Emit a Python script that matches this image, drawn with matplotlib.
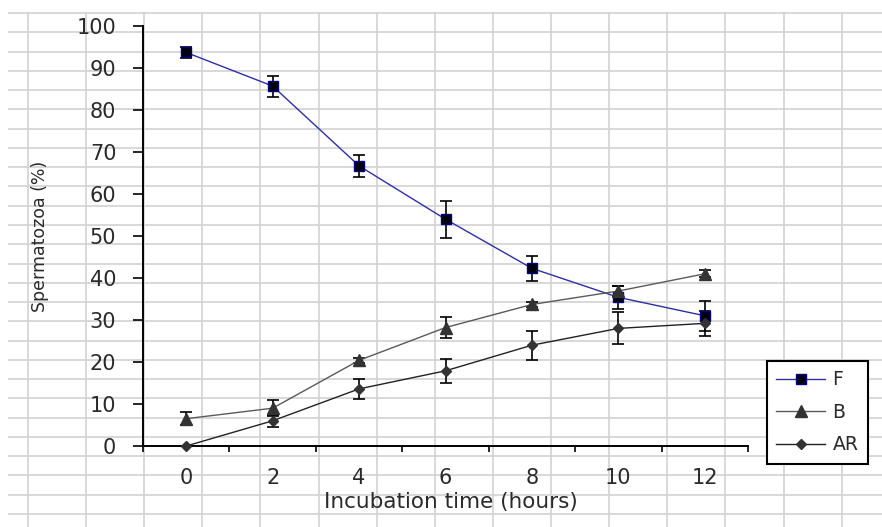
import matplotlib
matplotlib.use('Agg')
import matplotlib.pyplot as plt
import numpy as np

# ---- data ----
hours = [0, 2, 4, 6, 8, 10, 12]
F = [93.7, 85.7, 66.7, 54.0, 42.3, 35.4, 31.0]
F_err = [1.4, 2.5, 2.7, 4.4, 3.0, 2.8, 3.6]
B = [6.5, 9.0, 20.4, 28.2, 33.7, 36.9, 41.0]
B_err = [1.5, 1.9, 0.6, 2.6, 0.6, 1.1, 0.8]
AR = [0.0, 6.0, 13.6, 17.9, 24.0, 28.0, 29.2]
AR_err = [0.0, 1.4, 2.3, 2.9, 3.5, 3.8, 3.0]
series_names = ['F', 'B', 'AR']
y_ticks = list(range(0, 101, 10))
xlabel = 'Incubation time (hours)'
ylabel = 'Spermatozoa (%)'

plt.rcParams['font.family'] = ['DejaVu Sans']

W, H = 882, 527
fig = plt.figure(figsize=(W / 100, H / 100), dpi=100)

# ---- spreadsheet cell grid in the background ----
bg = fig.add_axes([0, 0, 1, 1], zorder=0)
bg.set_xlim(0, W)
bg.set_ylim(H, 0)
bg.axis('off')
row_y = 13 + 19.27 * np.arange(27)
col_x = 28 + 58.12 * np.arange(15)
bg.hlines(row_y, 8, W, color='#d2d2d2', lw=1.2)
bg.vlines(col_x, 12, H, color='#d2d2d2', lw=1.2)

# ---- chart ----
ax = fig.add_axes([143 / W, 1 - 446 / H, 605 / W, 420 / H], zorder=1)
ax.patch.set_alpha(0)

err_kw = dict(fmt='none', ecolor='black', elinewidth=1.2, capsize=4.3,
              capthick=1.2, clip_on=False, zorder=3)
ax.errorbar(hours, F, yerr=F_err, **err_kw)
ax.errorbar(hours, B, yerr=B_err, **err_kw)
ax.errorbar(hours, AR, yerr=AR_err, **err_kw)

lF, = ax.plot(hours, F, color='#2e2ea6', lw=1.0, marker='s', markersize=7.3,
              markerfacecolor='#000010', markeredgecolor='#000080',
              markeredgewidth=1.0, clip_on=False, zorder=4)
lB, = ax.plot(hours, B, color='#5a5a5a', lw=1.0, marker='^', markersize=8,
              markerfacecolor='#333333', markeredgecolor='#333333',
              clip_on=False, zorder=4)
lAR, = ax.plot(hours, AR, color='#222222', lw=1.0, marker='D', markersize=5.5,
               markerfacecolor='#333333', markeredgecolor='#333333',
               clip_on=False, zorder=4)

ax.set_xlim(-1, 13)
ax.set_ylim(0, 100)
ax.set_yticks(y_ticks)
ax.set_yticklabels([str(v) for v in y_ticks])
ax.set_xticks(np.arange(-1, 14, 2))
ax.set_xticklabels([])
ax.set_xticks(hours, minor=True)
ax.set_xticklabels([str(h) for h in hours], minor=True)
ax.tick_params(axis='x', which='major', direction='out', length=4.5, width=1.2)
ax.tick_params(axis='x', which='minor', length=0, pad=16, labelsize=15,
               labelcolor='#2a2a2a')
ax.tick_params(axis='y', direction='out', length=7.2, width=1.2, pad=12,
               labelsize=15, labelcolor='#2a2a2a')

for s in ['top', 'right']:
    ax.spines[s].set_visible(False)
for s in ['left', 'bottom']:
    ax.spines[s].set_linewidth(1.4)
    ax.spines[s].set_color('black')

ax.set_xlabel(xlabel, fontsize=15.5, color='#2a2a2a', va='center')
ax.xaxis.set_label_coords(0.509, -0.1326)
ax.set_ylabel(ylabel, fontsize=12.5, color='#2a2a2a', va='center')
ax.yaxis.set_label_coords(-0.170, 0.50)

leg = ax.legend([lF, lB, lAR], series_names, loc='upper left',
                bbox_to_anchor=(767 / W, 1 - 361 / H),
                bbox_transform=fig.transFigure, frameon=True, fancybox=False,
                edgecolor='black', facecolor='white', framealpha=1,
                fontsize=13.5, handlelength=2.6, handletextpad=0.4,
                labelspacing=0.72, borderpad=0.5, borderaxespad=0)
leg.get_frame().set_linewidth(1.5)
for t in leg.get_texts():
    t.set_color('#2a2a2a')

fig.savefig('out.png', dpi=100)
